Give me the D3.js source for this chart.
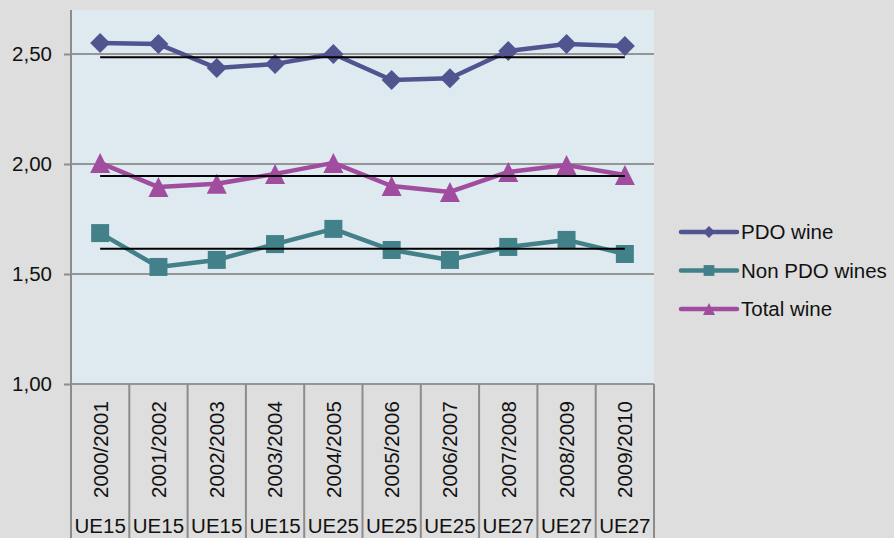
<!DOCTYPE html>
<html>
<head>
<meta charset="utf-8">
<script src="https://cdn.jsdelivr.net/npm/d3@7"></script>
<style>
  body { margin: 0; background: #dedede; }
  svg { display: block; font-family: "Liberation Sans", Arial, sans-serif; }
</style>
</head>
<body>
<div id="chart"></div>
<script>
// data
var seasons = ["2000/2001","2001/2002","2002/2003","2003/2004","2004/2005",
               "2005/2006","2006/2007","2007/2008","2008/2009","2009/2010"];
var zones = ["UE15","UE15","UE15","UE15","UE25","UE25","UE25","UE27","UE27","UE27"];
var pdo    = [2.55, 2.545, 2.436, 2.455, 2.50, 2.382, 2.39, 2.514, 2.545, 2.536];
var nonPdo = [1.686, 1.532, 1.564, 1.636, 1.705, 1.609, 1.564, 1.623, 1.655, 1.591];
var total  = [2.005, 1.895, 1.91, 1.955, 2.005, 1.90, 1.873, 1.964, 1.995, 1.95];
var averages = [2.485, 1.615, 1.945];   // pdo, non pdo, total
var yTicks = [1.0, 1.5, 2.0, 2.5];

var width = 894, height = 538;
var plot = { left: 71, right: 654, top: 10, bottom: 384 };

var svg = d3.select("#chart").append("svg")
  .attr("width", width)
  .attr("height", height);

svg.append("rect").attr("width", width).attr("height", height).attr("fill", "#dedede");

var x = d3.scaleBand().domain(seasons).range([plot.left, plot.right]);
var y = d3.scaleLinear().domain([1, 2.7]).range([plot.bottom, plot.top]);
var cx = function(d, i) { return x(seasons[i]) + x.bandwidth() / 2; };

svg.append("rect")
  .attr("x", plot.left).attr("y", plot.top)
  .attr("width", plot.right - plot.left).attr("height", plot.bottom - plot.top)
  .attr("fill", "#dfe9f0");

// y axis with gridlines
var yAxis = svg.append("g")
  .attr("transform", "translate(" + plot.left + ",0)")
  .call(d3.axisLeft(y).tickValues(yTicks).tickSize(7).tickFormat(function(d) {
    return d3.format(".2f")(d).replace(".", ",");
  }));
yAxis.select(".domain").remove();
yAxis.selectAll(".tick line").attr("stroke", "#8c8c8c").attr("stroke-width", 2);
yAxis.selectAll(".tick text")
  .attr("x", -19)
  .attr("fill", "#111")
  .style("font-size", "20.5px")
  .style("font-family", "Liberation Sans, Arial, sans-serif");

svg.append("g").selectAll("line")
  .data(yTicks)
  .enter().append("line")
  .attr("x1", plot.left).attr("x2", plot.right)
  .attr("y1", function(d) { return y(d); })
  .attr("y2", function(d) { return y(d); })
  .attr("stroke", "#959595")
  .attr("stroke-width", 2);

svg.append("line")
  .attr("x1", plot.left).attr("x2", plot.left)
  .attr("y1", plot.top).attr("y2", height)
  .attr("stroke", "#8c8c8c").attr("stroke-width", 2);

// category separators below the plot
var edges = seasons.map(function(s) { return x(s); }).concat([plot.right]);
svg.append("g").selectAll("line")
  .data(edges.slice(1))
  .enter().append("line")
  .attr("x1", function(d) { return d; }).attr("x2", function(d) { return d; })
  .attr("y1", plot.bottom).attr("y2", height)
  .attr("stroke", "#8c8c8c").attr("stroke-width", 2);

// season labels, rotated
svg.append("g").selectAll("text")
  .data(seasons)
  .enter().append("text")
  .attr("transform", function(d, i) { return "translate(" + cx(d, i) + ",498) rotate(-90)"; })
  .attr("dy", "0.36em")
  .attr("fill", "#111")
  .style("font-size", "20.5px")
  .text(function(d) { return d; });

svg.append("g").selectAll("text")
  .data(zones)
  .enter().append("text")
  .attr("x", cx)
  .attr("y", 533)
  .attr("text-anchor", "middle")
  .attr("fill", "#111")
  .style("font-size", "20.5px")
  .text(function(d) { return d; });

var series = [
  { name: "PDO wine", values: pdo, color: "#505590", marker: "diamond" },
  { name: "Non PDO wines", values: nonPdo, color: "#42808a", marker: "square" },
  { name: "Total wine", values: total, color: "#a04da0", marker: "triangle" }
];

function markerPath(type) {
  if (type == "diamond") return "M0,-10L10,0L0,10L-10,0Z";
  if (type == "square") return "M-9,-9H9V9H-9Z";
  return "M0,-10L10,10L-10,10Z";
}

var line = d3.line()
  .x(function(d, i) { return cx(d, i); })
  .y(function(d) { return y(d); });

series.forEach(function(s) {
  var g = svg.append("g");
  g.append("path")
    .datum(s.values)
    .attr("d", line)
    .attr("fill", "none")
    .attr("stroke", s.color)
    .attr("stroke-width", 4.5)
    .attr("stroke-linejoin", "round");
  g.selectAll(".m")
    .data(s.values)
    .enter().append("path")
    .attr("class", "m")
    .attr("transform", function(d, i) { return "translate(" + cx(d, i) + "," + y(d) + ")"; })
    .attr("d", markerPath(s.marker))
    .attr("fill", s.color);
});

// average lines
svg.append("g").selectAll("line")
  .data(averages)
  .enter().append("line")
  .attr("x1", x(seasons[0]) + x.bandwidth() / 2)
  .attr("x2", x(seasons[seasons.length - 1]) + x.bandwidth() / 2)
  .attr("y1", function(d) { return y(d); })
  .attr("y2", function(d) { return y(d); })
  .attr("stroke", "#000")
  .attr("stroke-width", 2);

// legend
var legend = svg.append("g").selectAll("g")
  .data(series)
  .enter().append("g")
  .attr("transform", function(d, i) { return "translate(681," + (232 + i * 38.5) + ")"; });

legend.append("line")
  .attr("x1", 0).attr("x2", 56)
  .attr("stroke", function(d) { return d.color; })
  .attr("stroke-width", 4.5)
  .attr("stroke-linecap", "round");
legend.append("path")
  .attr("transform", "translate(28,0) scale(0.6)")
  .attr("d", function(d) { return markerPath(d.marker); })
  .attr("fill", function(d) { return d.color; });
legend.append("text")
  .attr("x", 60)
  .attr("dy", "0.36em")
  .attr("fill", "#111")
  .style("font-size", "20.5px")
  .text(function(d) { return d.name; });
</script>
</body>
</html>
